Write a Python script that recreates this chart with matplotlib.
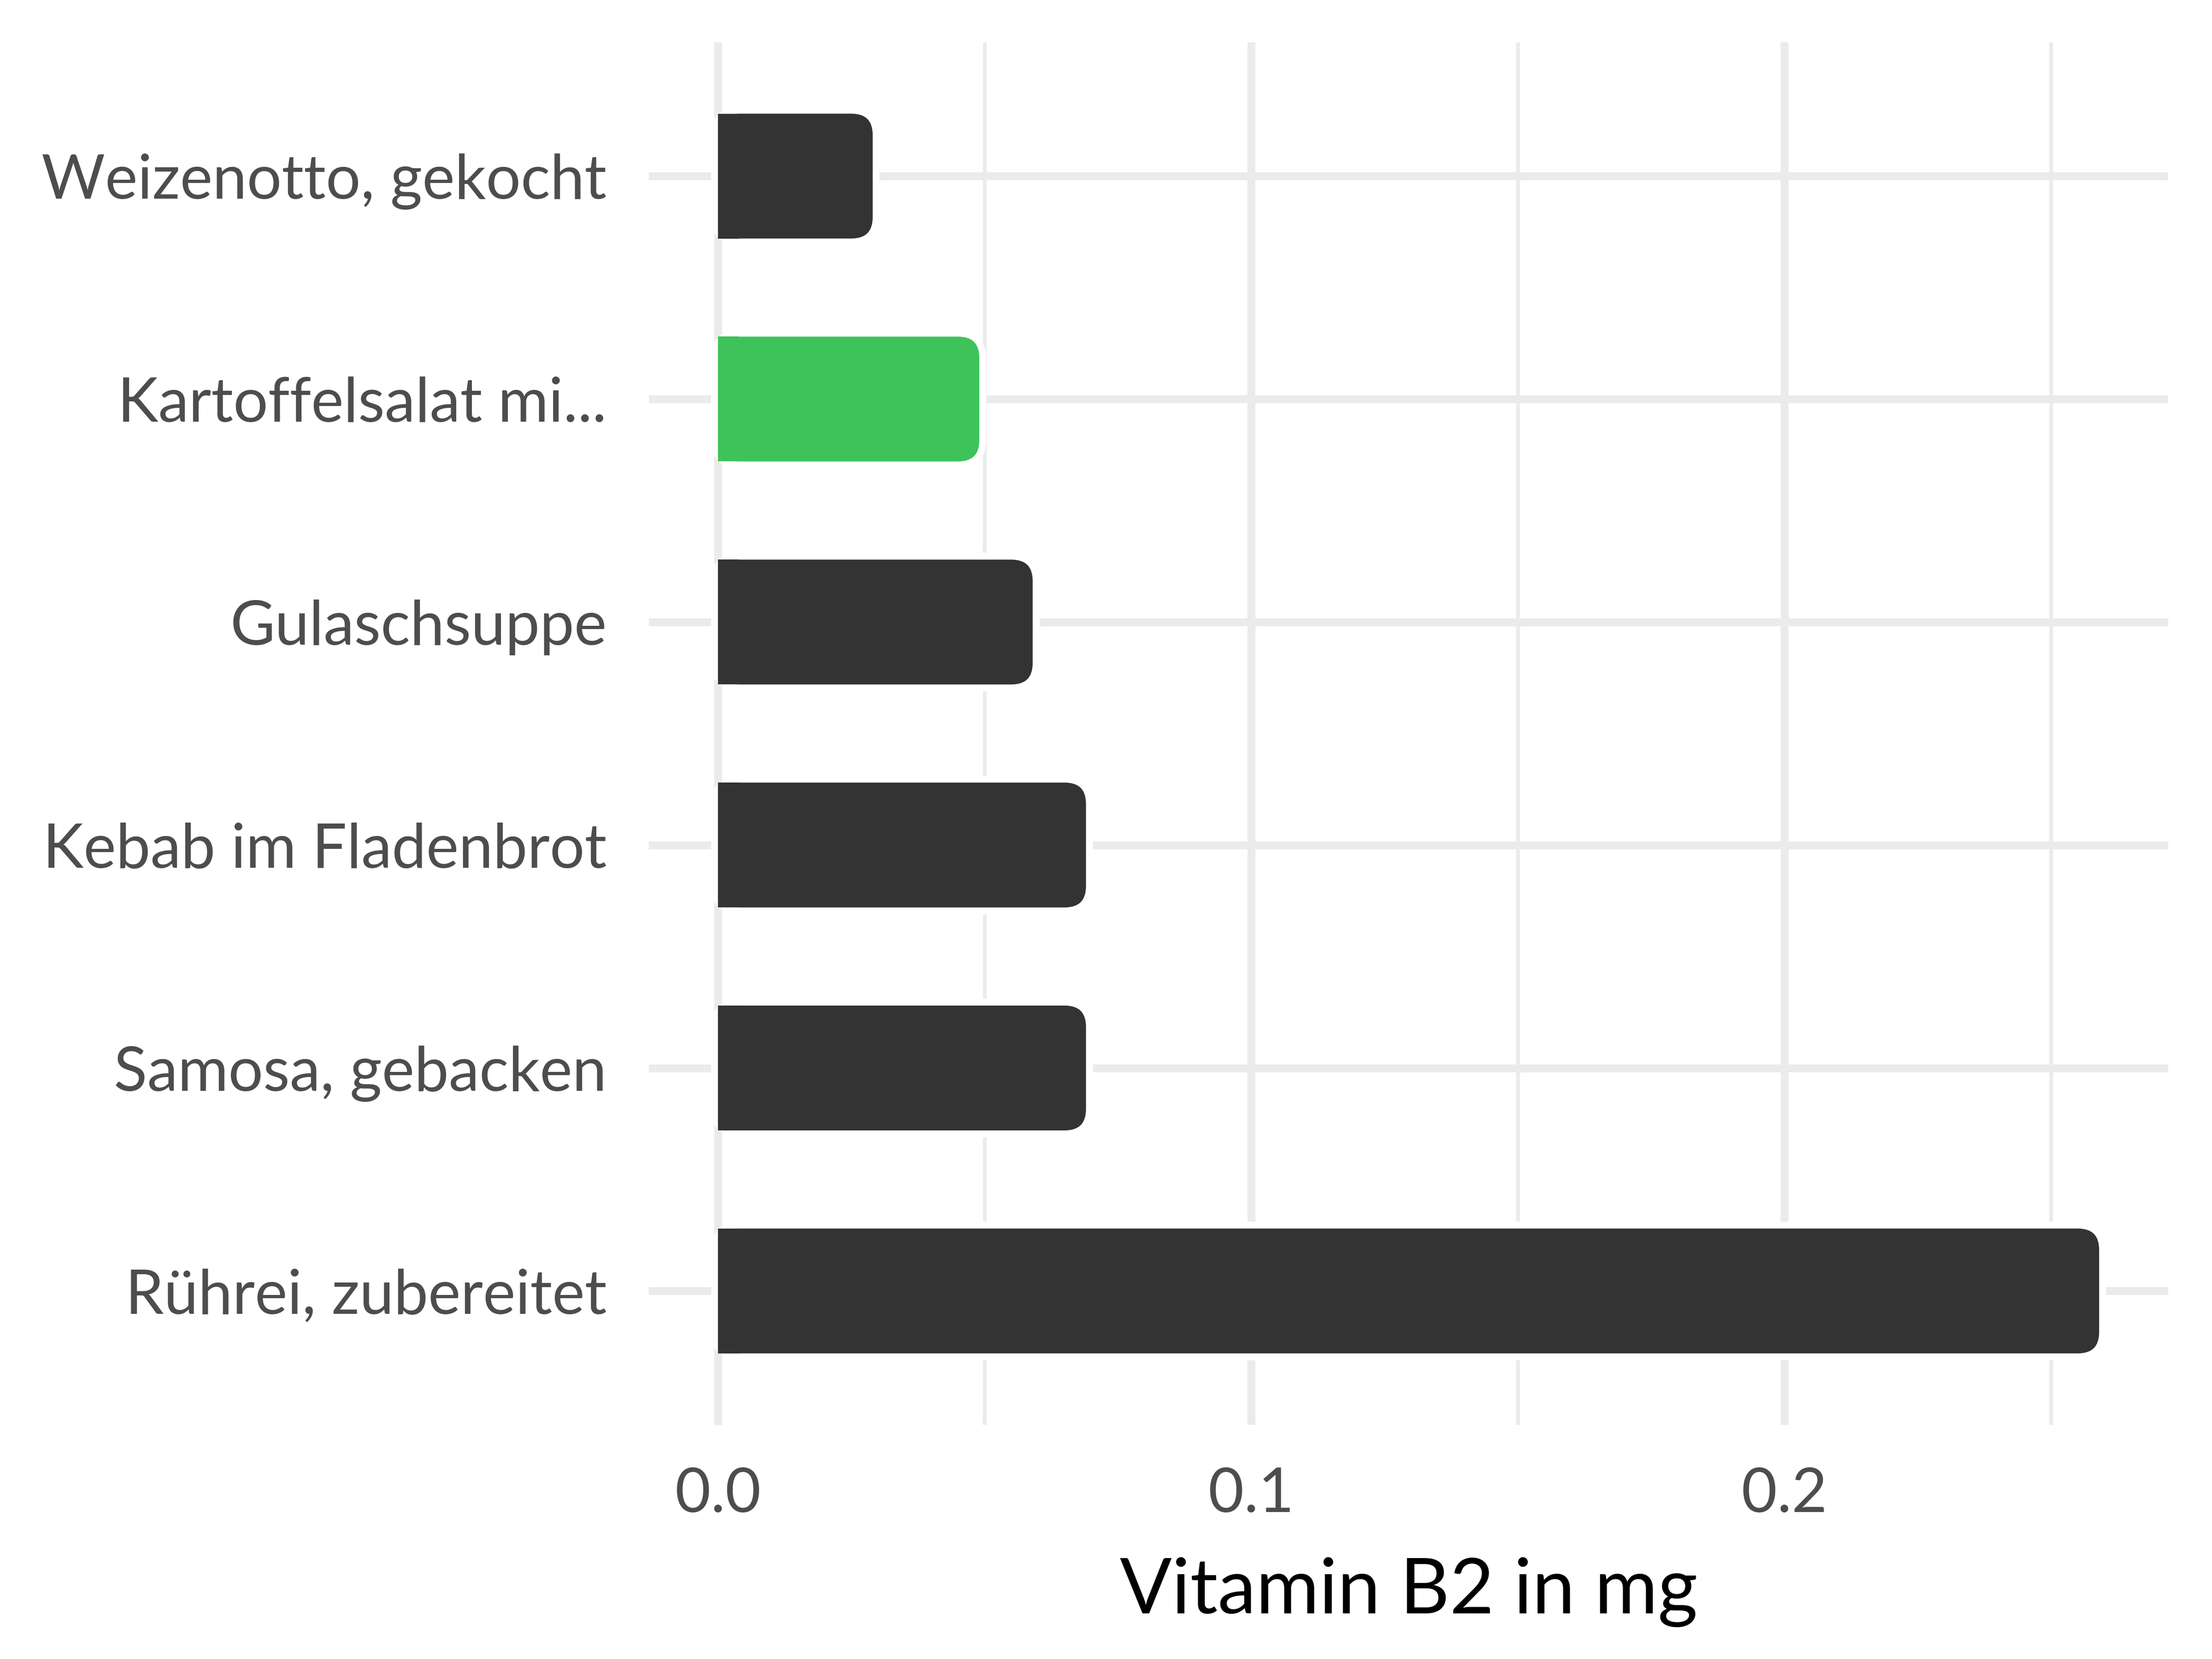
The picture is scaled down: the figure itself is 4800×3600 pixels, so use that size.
import matplotlib
matplotlib.use("Agg")
import matplotlib.pyplot as plt
from matplotlib.patches import FancyBboxPatch, Rectangle

foods = [
    "Weizenotto, gekocht",
    "Kartoffelsalat mi...",
    "Gulaschsuppe",
    "Kebab im Fladenbrot",
    "Samosa, gebacken",
    "Rührei, zubereitet",
]
values = [0.029, 0.049, 0.059, 0.069, 0.069, 0.259]
highlight = "Kartoffelsalat mi..."

major_ticks = [0.0, 0.1, 0.2]
minor_ticks = [0.05, 0.15, 0.25]
tick_labels = ["0.0", "0.1", "0.2"]

BAR_COLOR = "#333333"
HIGHLIGHT_COLOR = "#3EC35A"
GRID_COLOR = "#EBEBEB"
TEXT_COLOR = "#4D4D4D"

plt.rcParams["font.family"] = ["Lato", "DejaVu Sans"]

DPI = 300
fig = plt.figure(figsize=(16, 12), dpi=DPI)
ax = fig.add_axes([0.2934, 0.1412, 0.6868, 0.8333])

n = len(foods)
ypos = [n - i for i in range(n)]
xmax = max(values)
ax.set_xlim(-0.05 * xmax, 1.05 * xmax)
ax.set_ylim(0.4, n + 0.6)

# data units per pixel, needed for rounded corners with unequal scales
p0 = ax.transData.transform((0, 0))
p1 = ax.transData.transform((1, 1))
xpp = 1.0 / (p1[0] - p0[0])
ypp = 1.0 / (p1[1] - p0[1])
aspect = ypp / xpp

bar_h = 0.56
edge_pt = 7.2
r = 46 * xpp


def rounded_bar(y, v, **kw):
    return FancyBboxPatch(
        (0, y - bar_h / 2), v, bar_h,
        boxstyle=f"round,pad=0,rounding_size={r}",
        mutation_aspect=aspect, **kw,
    )


for y, v, name in zip(ypos, values, foods):
    color = HIGHLIGHT_COLOR if name == highlight else BAR_COLOR
    # white halo under the bar cuts the grid lines
    ax.add_patch(rounded_bar(y, v, fc="white", ec="white", lw=edge_pt, zorder=2))
    ax.add_patch(rounded_bar(y, v, fc=color, ec="none", lw=0, zorder=3))
    # square off the left end
    ax.add_patch(Rectangle((0, y - bar_h / 2), min(r, v), bar_h,
                           fc=color, ec="none", lw=0, zorder=4))

ax.set_yticks(ypos)
ax.set_yticklabels(foods)
ax.set_xticks(major_ticks)
ax.set_xticklabels(tick_labels)
ax.set_xticks(minor_ticks, minor=True)

ax.set_axisbelow(True)
ax.grid(which="major", color=GRID_COLOR, lw=4.1)
ax.grid(which="minor", axis="x", color=GRID_COLOR, lw=2.0)
for s in ax.spines.values():
    s.set_visible(False)

ax.tick_params(axis="both", which="both", length=0, labelcolor=TEXT_COLOR, labelsize=32)
ax.tick_params(axis="y", pad=22)
ax.tick_params(axis="x", pad=22)

ax.set_xlabel("Vitamin B2 in mg", fontsize=40, color="black", labelpad=18)

fig.savefig("out.png", dpi=DPI)
